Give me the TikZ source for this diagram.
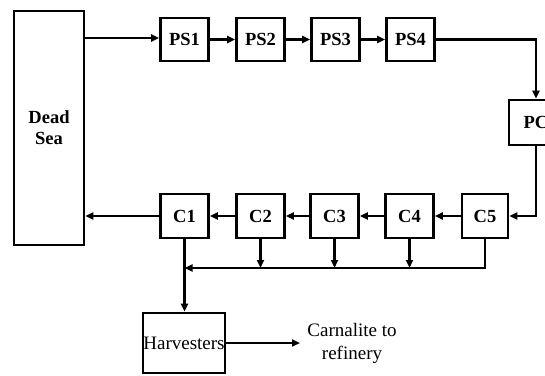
\documentclass[tikz,border=0pt]{standalone}
\usepackage{fontspec}
\setmainfont{Liberation Serif}
\usetikzlibrary{arrows.meta}
\begin{document}
\begin{tikzpicture}[x=1pt,y=-1pt,
  box/.style={draw,line width=2.6pt,minimum width=48pt,minimum height=43pt,inner sep=0pt,
    font=\fontsize{18.5}{20}\selectfont\bfseries},
  conn/.style={line width=2.4pt,-{Triangle[length=8pt,width=7pt]}}]
\useasboundingbox (0,0) rectangle (545,375);
\node[box,minimum width=70pt,minimum height=234pt,align=center,font=\fontsize{18.5}{21}\selectfont\bfseries] (dead) at (49,128) {Dead\\Sea};
\node[box] (ps1) at (184.5,39.5) {PS1};
\node[box] (ps2) at (260.5,39.5) {PS2};
\node[box] (ps3) at (335.5,39.5) {PS3};
\node[box] (ps4) at (410.5,39.5) {PS4};
\node[box,minimum width=54pt,minimum height=45pt] (pc) at (536,122.5) {PC};
\node[box,minimum height=44pt] (c1) at (184.5,216) {C1};
\node[box,minimum height=44pt] (c2) at (260.5,216) {C2};
\node[box,minimum height=44pt] (c3) at (334.5,216) {C3};
\node[box,minimum height=44pt] (c4) at (409.5,216) {C4};
\node[box,minimum height=44pt,minimum width=46pt] (c5) at (485,216) {C5};
\node[box,minimum width=82pt,minimum height=60pt,font=\fontsize{19}{21}\selectfont] (harv) at (184,343) {Harvesters};
\node[align=center,inner sep=0pt,font=\fontsize{19}{23}\selectfont] (carn) at (352,343) {Carnalite to\\refinery};
\coordinate (cend) at (300,343);
\coordinate (j) at (184.5,268);
\draw[conn] (dead.east |- 0,38) -- (ps1.west |- 0,38);
\draw[conn] (ps1) -- (ps2);
\draw[conn] (ps2) -- (ps3);
\draw[conn] (ps3) -- (ps4);
\draw[conn] (ps4.east) -| (pc.north);
\draw[conn] (pc.south) |- (c5.east);
\draw[conn] (c5) -- (c4);
\draw[conn] (c4) -- (c3);
\draw[conn] (c3) -- (c2);
\draw[conn] (c2) -- (c1);
\draw[conn] (c1.west) -- (dead.east |- c1);
\draw[conn] (c1.south) -- (harv.north -| c1.south);
\draw[conn] (c2.south) -- (c2.south |- j);
\draw[conn] (c3.south) -- (c3.south |- j);
\draw[conn] (c4.south) -- (c4.south |- j);
\draw[conn] (c5.south) |- (j);
\draw[conn] (harv.east) -- (cend);
\end{tikzpicture}
\end{document}
